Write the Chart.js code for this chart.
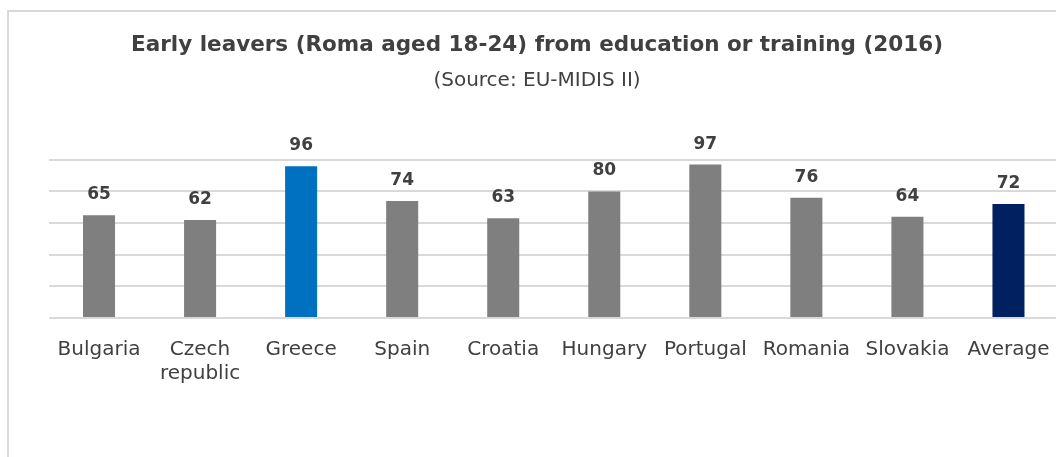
<!DOCTYPE html>
<html>
<head>
<meta charset="utf-8">
<script src="https://cdn.jsdelivr.net/npm/chart.js@4.4.1/dist/chart.umd.min.js"></script>
<style>
  html, body { margin: 0; padding: 0; background: #ffffff; overflow: hidden; width: 1056px; height: 457px; }
  #frame { position: absolute; left: 7px; top: 10px; width: 1058px; height: 460px;
           border-left: 2px solid #d9d9d9; border-top: 2px solid #d9d9d9; }
  #wrap { position: absolute; left: 0; top: 0; width: 1058px; height: 445px; }
</style>
</head>
<body>
<div id="frame"><div id="wrap"><canvas id="c"></canvas></div></div>
<script>
const categories = ["Bulgaria", ["Czech", "republic"], "Greece", "Spain", "Croatia", "Hungary", "Portugal", "Romania", "Slovakia", "Average"];
const values = [65, 62, 96, 74, 63, 80, 97, 76, 64, 72];
const barColors = ["#7f7f7f", "#7f7f7f", "#0070c0", "#7f7f7f", "#7f7f7f", "#7f7f7f", "#7f7f7f", "#7f7f7f", "#7f7f7f", "#002060"];
const yTicks = [0, 20, 40, 60, 80, 100];
const titleText = "Early leavers (Roma aged 18-24) from education or training (2016)";
const subtitleText = "(Source: EU-MIDIS II)";

const FONT = "'DejaVu Sans', Verdana, sans-serif";

const valueLabels = {
  id: 'valueLabels',
  afterDatasetsDraw(chart) {
    const ctx = chart.ctx;
    const meta = chart.getDatasetMeta(0);
    ctx.save();
    ctx.font = "bold 17px " + FONT;
    ctx.fillStyle = "#404040";
    ctx.textAlign = "center";
    ctx.textBaseline = "alphabetic";
    meta.data.forEach((el, i) => {
      ctx.fillText(String(values[i]), el.x, el.y - 16);
    });
    ctx.restore();
  }
};

new Chart(document.getElementById('c'), {
  type: 'bar',
  data: {
    labels: categories,
    datasets: [{
      data: values,
      backgroundColor: barColors,
      borderWidth: 0,
      categoryPercentage: 1,
      barPercentage: 0.317
    }]
  },
  options: {
    responsive: true,
    maintainAspectRatio: false,
    animation: false,
    devicePixelRatio: 1,
    layout: { padding: { left: 6, right: 8, top: 0, bottom: 59 } },
    plugins: {
      legend: { display: false },
      tooltip: { enabled: false },
      title: {
        display: true,
        text: titleText,
        color: "#404040",
        font: { family: FONT, size: 21.5, weight: 'bold' },
        padding: { top: 21, bottom: 10 }
      },
      subtitle: {
        display: true,
        text: subtitleText,
        color: "#404040",
        font: { family: FONT, size: 20, weight: 'normal' },
        padding: { top: 0, bottom: 67 }
      }
    },
    scales: {
      x: {
        grid: { display: false },
        border: { display: false },
        ticks: {
          color: "#404040",
          font: { family: FONT, size: 20 },
          padding: 12,
          maxRotation: 0,
          autoSkip: false
        }
      },
      y: {
        min: 0,
        max: 100,
        afterFit(scale) { scale.width = 33.5; },
        afterBuildTicks(scale) { scale.ticks = yTicks.map(v => ({ value: v })); },
        grid: { color: "#d9d9d9", lineWidth: 2, drawTicks: false },
        border: { display: false },
        ticks: { display: false, stepSize: 20 }
      }
    }
  },
  plugins: [valueLabels]
});
</script>
</body>
</html>
